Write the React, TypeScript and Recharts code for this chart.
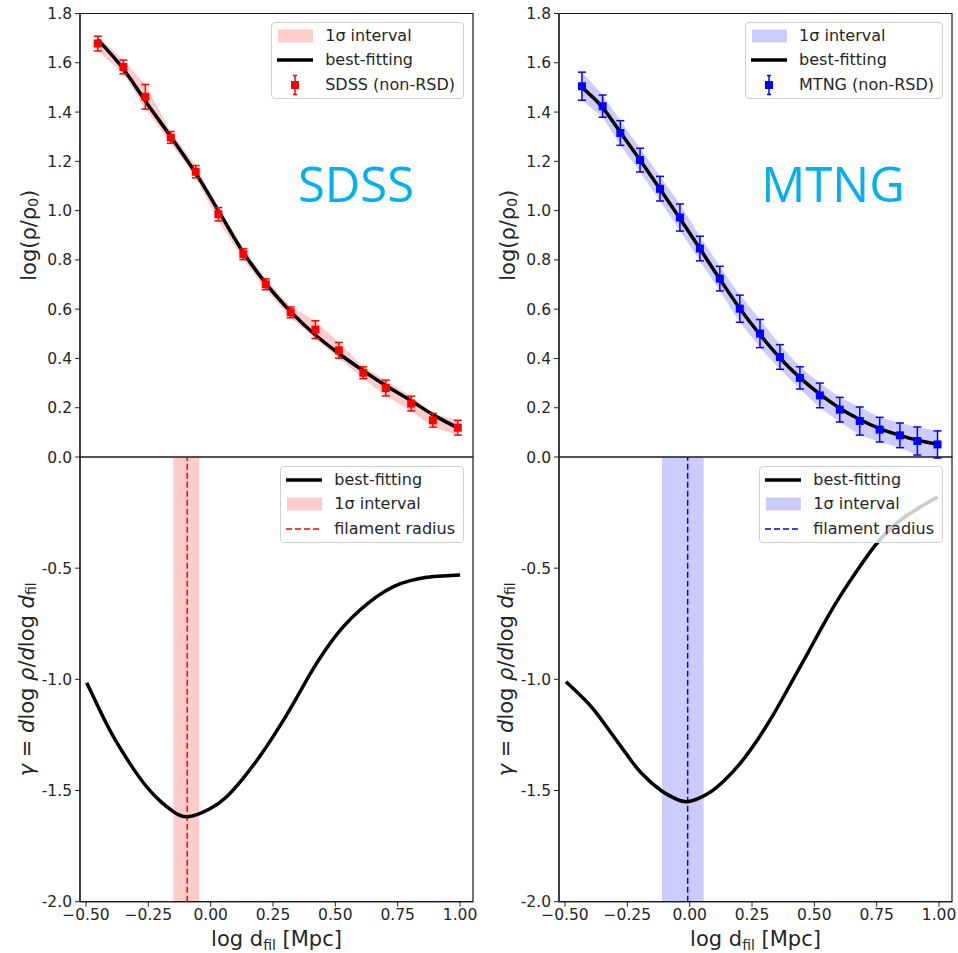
import React from "react";
import {
  ComposedChart,
  Line,
  Area,
  Scatter,
  ErrorBar,
  XAxis,
  YAxis,
  ZAxis,
  ReferenceArea,
  ReferenceLine,
} from "recharts";

// ---- data ----
const sdssX = [-0.453, -0.35, -0.262, -0.16, -0.06, 0.031, 0.131, 0.221, 0.321, 0.42, 0.514, 0.612, 0.702, 0.804, 0.891, 0.991];
const sdssY = [1.678, 1.583, 1.462, 1.297, 1.158, 0.985, 0.823, 0.701, 0.587, 0.517, 0.433, 0.342, 0.28, 0.217, 0.149, 0.119];
const sdssErr = [0.03, 0.028, 0.05, 0.024, 0.025, 0.027, 0.022, 0.022, 0.022, 0.036, 0.032, 0.024, 0.032, 0.03, 0.028, 0.03];
const sdssFit = [1.694, 1.575, 1.445, 1.3, 1.152, 1.0, 0.83, 0.705, 0.59, 0.495, 0.42, 0.35, 0.29, 0.228, 0.172, 0.118];

const mtngX = [-0.432, -0.349, -0.278, -0.199, -0.119, -0.039, 0.041, 0.121, 0.201, 0.282, 0.362, 0.442, 0.522, 0.602, 0.682, 0.762, 0.843, 0.913, 0.994];
const mtngY = [1.505, 1.424, 1.315, 1.205, 1.089, 0.972, 0.846, 0.724, 0.602, 0.501, 0.406, 0.321, 0.25, 0.192, 0.146, 0.111, 0.088, 0.065, 0.051];
const mtngErr = [0.057, 0.045, 0.05, 0.048, 0.05, 0.055, 0.05, 0.05, 0.055, 0.057, 0.05, 0.045, 0.05, 0.05, 0.057, 0.05, 0.05, 0.057, 0.055];
const mtngFit = [1.5, 1.418, 1.318, 1.205, 1.088, 0.968, 0.846, 0.722, 0.603, 0.497, 0.402, 0.322, 0.255, 0.198, 0.152, 0.115, 0.088, 0.068, 0.052];

const gammaSdssX = [-0.497, -0.444, -0.39, -0.323, -0.257, -0.2, -0.15, -0.092, -0.003, 0.064, 0.13, 0.198, 0.265, 0.332, 0.399, 0.465, 0.532, 0.599, 0.666, 0.733, 0.8, 0.867, 0.93, 1.0];
const gammaSdssY = [-1.015, -1.14, -1.258, -1.38, -1.483, -1.55, -1.595, -1.618, -1.582, -1.528, -1.445, -1.345, -1.232, -1.108, -0.975, -0.86, -0.763, -0.688, -0.628, -0.583, -0.556, -0.541, -0.535, -0.531];

const gammaMtngX = [-0.496, -0.44, -0.383, -0.316, -0.249, -0.195, -0.115, -0.06, -0.008, 0.072, 0.139, 0.205, 0.272, 0.339, 0.406, 0.473, 0.539, 0.606, 0.673, 0.74, 0.807, 0.874, 0.93, 0.994];
const gammaMtngY = [-1.011, -1.07, -1.138, -1.24, -1.343, -1.42, -1.5, -1.535, -1.55, -1.515, -1.455, -1.375, -1.272, -1.152, -1.018, -0.883, -0.748, -0.621, -0.508, -0.403, -0.321, -0.261, -0.222, -0.18];

// filament radius: [centre, low, high]
const sdssRadius = [-0.094, -0.15, -0.046];
const mtngRadius = [-0.008, -0.111, 0.056];

const xTicks = [-0.5, -0.25, 0, 0.25, 0.5, 0.75, 1.0];
const densityTicks = [0, 0.2, 0.4, 0.6, 0.8, 1.0, 1.2, 1.4, 1.6, 1.8];
const gammaTicks = [-2.0, -1.5, -1.0, -0.5];

const X_DOMAIN: [number, number] = [-0.524, 1.052];
const RHO_DOMAIN: [number, number] = [0, 1.8];
const GAMMA_DOMAIN: [number, number] = [-2, 0];
const FONT = "'DejaVu Sans', sans-serif";
const INK = "#262626";
const AXIS = { stroke: "#1a1a1a", strokeWidth: 1.2 };
const TICK = { fontSize: 15.5, fill: INK, fontFamily: FONT };
const COL_W = 479;

const fmtX = (v: number) => (v < 0 ? "\u2212" + Math.abs(v).toFixed(2) : v.toFixed(2));

function densityRows(x: number[], y: number[], err: number[], fit: number[]) {
  return x.map((v, i) => ({ x: v, y: y[i], err: err[i], band: [y[i] - err[i], y[i] + err[i]], fit: fit[i] }));
}
function gammaRows(x: number[], g: number[]) {
  return x.map((v, i) => ({ x: v, g: g[i] }));
}

function DensityYLabel(props: any) {
  const vb = props.viewBox || { x: 20, y: 13.5, height: 443 };
  const cx = vb.x + 9;
  const cy = vb.y + vb.height / 2;
  return (
    <text x={cx} y={cy} transform={`rotate(-90 ${cx} ${cy})`} textAnchor="middle" dominantBaseline="central" fontFamily={FONT} fontSize={21} fill={INK}>
      log(ρ/ρ
      <tspan fontSize={14} dy={4}>0</tspan>
      <tspan dy={-4}>)</tspan>
    </text>
  );
}

function GammaYLabel(props: any) {
  const vb = props.viewBox || { x: 20, y: 17, height: 445 };
  const cx = vb.x + 7;
  const cy = vb.y + vb.height / 2;
  return (
    <text x={cx} y={cy} transform={`rotate(-90 ${cx} ${cy})`} textAnchor="middle" dominantBaseline="central" fontFamily={FONT} fontSize={21} fill={INK}>
      <tspan fontStyle="italic">γ</tspan>
      {" = "}
      <tspan fontStyle="italic">d</tspan>log <tspan fontStyle="italic">ρ</tspan>/<tspan fontStyle="italic">d</tspan>log{" "}
      <tspan fontStyle="italic">d</tspan>
      <tspan fontSize={14} dy={4}>fil</tspan>
    </text>
  );
}

function XTitle(props: any) {
  const vb = props.viewBox || { x: 80, y: 461.7, width: 393 };
  return (
    <text x={vb.x + vb.width / 2} y={vb.y + 44} textAnchor="middle" fontFamily={FONT} fontSize={21} fill={INK}>
      log d<tspan fontSize={14} dy={4}>fil</tspan>
      <tspan dy={-4}> [Mpc]</tspan>
    </text>
  );
}

// axes box drawn as a reference area spanning the full domain
function Frame({ y }: { y: [number, number] }) {
  return (
    <ReferenceArea x1={X_DOMAIN[0]} x2={X_DOMAIN[1]} y1={y[0]} y2={y[1]} ifOverflow="visible" fill="none" stroke="#1a1a1a" strokeWidth={1.2} />
  );
}

function DensityPanel({ rows, color }: { rows: any[]; color: string }) {
  return (
    <ComposedChart width={COL_W} height={470} data={rows} margin={{ top: 13.5, right: 6, bottom: 13, left: 20 }}>
      <XAxis dataKey="x" type="number" domain={X_DOMAIN} ticks={xTicks} allowDataOverflow tick={false} tickLine={false} height={0} axisLine={AXIS} />
      <YAxis type="number" domain={RHO_DOMAIN} ticks={densityTicks} allowDataOverflow tickFormatter={(v: number) => v.toFixed(1)} tick={TICK} tickSize={5} tickMargin={3} tickLine={{ stroke: INK }} axisLine={AXIS} width={60} label={(p: any) => <DensityYLabel {...p} />} />
      <ZAxis range={[64, 64]} />
      <Area dataKey="band" type="linear" fill={color} fillOpacity={0.2} stroke="none" isAnimationActive={false} />
      <Line dataKey="fit" type="monotone" stroke="#000" strokeWidth={3.5} dot={false} isAnimationActive={false} />
      <Scatter dataKey="y" fill={color} shape="square" isAnimationActive={false}>
        <ErrorBar dataKey="err" direction="y" width={4} stroke={color} strokeWidth={1.5} />
      </Scatter>
      {Frame({ y: RHO_DOMAIN })}
    </ComposedChart>
  );
}

function GammaPanel({ rows, color, radius }: { rows: any[]; color: string; radius: number[] }) {
  return (
    <ComposedChart width={COL_W} height={513} data={rows} margin={{ top: 17, right: 6, bottom: 0, left: 20 }}>
      <XAxis dataKey="x" type="number" domain={X_DOMAIN} ticks={xTicks} allowDataOverflow tickFormatter={fmtX} tick={TICK} tickSize={5} tickMargin={2} tickLine={{ stroke: INK }} axisLine={AXIS} height={51.3} label={(p: any) => <XTitle {...p} />} />
      <YAxis type="number" domain={GAMMA_DOMAIN} ticks={gammaTicks} allowDataOverflow tickFormatter={(v: number) => v.toFixed(1)} tick={TICK} tickSize={5} tickMargin={3} tickLine={{ stroke: INK }} axisLine={AXIS} width={60} label={(p: any) => <GammaYLabel {...p} />} />
      <ReferenceArea x1={radius[1]} x2={radius[2]} y1={GAMMA_DOMAIN[0]} y2={GAMMA_DOMAIN[1]} fill={color} fillOpacity={0.2} stroke="none" />
      <ReferenceLine x={radius[0]} stroke={color} strokeWidth={1.5} strokeDasharray="6 3" />
      <Line dataKey="g" type="natural" stroke="#000" strokeWidth={3.5} dot={false} isAnimationActive={false} />
      {Frame({ y: GAMMA_DOMAIN })}
    </ComposedChart>
  );
}

type Entry = { kind: "patch" | "line" | "marker" | "dashed"; label: string };

function Handle({ kind, color }: { kind: Entry["kind"]; color: string }) {
  return (
    <svg width={38} height={22} style={{ position: "absolute", left: 4, top: -11 }}>
      {kind === "patch" && <rect x={2} y={4.5} width={35} height={13} fill={color} fillOpacity={0.2} />}
      {kind === "line" && <line x1={1} x2={37} y1={11} y2={11} stroke="#000" strokeWidth={3.5} />}
      {kind === "dashed" && <line x1={1} x2={37} y1={11} y2={11} stroke={color} strokeWidth={1.5} strokeDasharray="6 3" />}
      {kind === "marker" && (
        <g stroke={color} strokeWidth={1.5}>
          <line x1={19} x2={19} y1={1.5} y2={20.5} />
          <line x1={17} x2={21} y1={1.5} y2={1.5} />
          <line x1={17} x2={21} y1={20.5} y2={20.5} />
          <rect x={15} y={7} width={8} height={8} fill={color} stroke="none" />
        </g>
      )}
    </svg>
  );
}

function LegendBox({ top, entries, color }: { top: number; entries: Entry[]; color: string }) {
  return (
    <div
      style={{
        position: "absolute",
        right: 15,
        top,
        height: 77,
        paddingRight: 8,
        paddingLeft: 53,
        boxSizing: "border-box",
        background: "rgba(255,255,255,0.8)",
        border: "1px solid #d0d0d0",
        borderRadius: 4,
        fontFamily: FONT,
        fontSize: 16,
        color: INK,
        whiteSpace: "nowrap",
      }}
    >
      {entries.map((e, i) => (
        <div key={e.label} style={{ position: "relative", height: 0, top: 12.5 + i * 24.7 }}>
          <div style={{ position: "absolute", left: -53, top: 0 }}>
            <Handle kind={e.kind} color={color} />
          </div>
          <div style={{ position: "relative", top: -10, lineHeight: "20px" }}>{e.label}</div>
        </div>
      ))}
      {entries.map((e) => (
        <div key={"w" + e.label} style={{ visibility: "hidden", height: 0, lineHeight: 0 }}>{e.label}</div>
      ))}
    </div>
  );
}

function Column({ left, color, name, density, gamma, radius }: any) {
  return (
    <div style={{ position: "absolute", left, top: 0, width: COL_W, height: 953 }}>
      <div style={{ position: "absolute", left: 0, top: 0 }}>
        <DensityPanel rows={density} color={color} />
      </div>
      <div style={{ position: "absolute", left: 0, top: 440 }}>
        <GammaPanel rows={gamma} color={color} radius={radius} />
      </div>
      <svg width={COL_W} height={240} style={{ position: "absolute", left: 0, top: 0, pointerEvents: "none" }}>
        <text x={name === "SDSS" ? 356 : 354} y={202} textAnchor="middle" fontFamily="'Open Sans', 'Noto Sans', sans-serif" fontSize={49} fill="#00b0f0">
          {name}
        </text>
      </svg>
      <LegendBox
        top={22}
        color={color}
        entries={[
          { kind: "patch", label: "1σ interval" },
          { kind: "line", label: "best-fitting" },
          { kind: "marker", label: `${name} (non-RSD)` },
        ]}
      />
      <LegendBox
        top={466}
        color={color}
        entries={[
          { kind: "line", label: "best-fitting" },
          { kind: "patch", label: "1σ interval" },
          { kind: "dashed", label: "filament radius" },
        ]}
      />
    </div>
  );
}

export default function App() {
  return (
    <div style={{ position: "absolute", left: 0, top: 0, width: 958, height: 953, background: "#fff", overflow: "hidden" }}>
      <Column left={0} color="#ff0000" name="SDSS" density={densityRows(sdssX, sdssY, sdssErr, sdssFit)} gamma={gammaRows(gammaSdssX, gammaSdssY)} radius={sdssRadius} />
      <Column left={COL_W} color="#0000ff" name="MTNG" density={densityRows(mtngX, mtngY, mtngErr, mtngFit)} gamma={gammaRows(gammaMtngX, gammaMtngY)} radius={mtngRadius} />
    </div>
  );
}
